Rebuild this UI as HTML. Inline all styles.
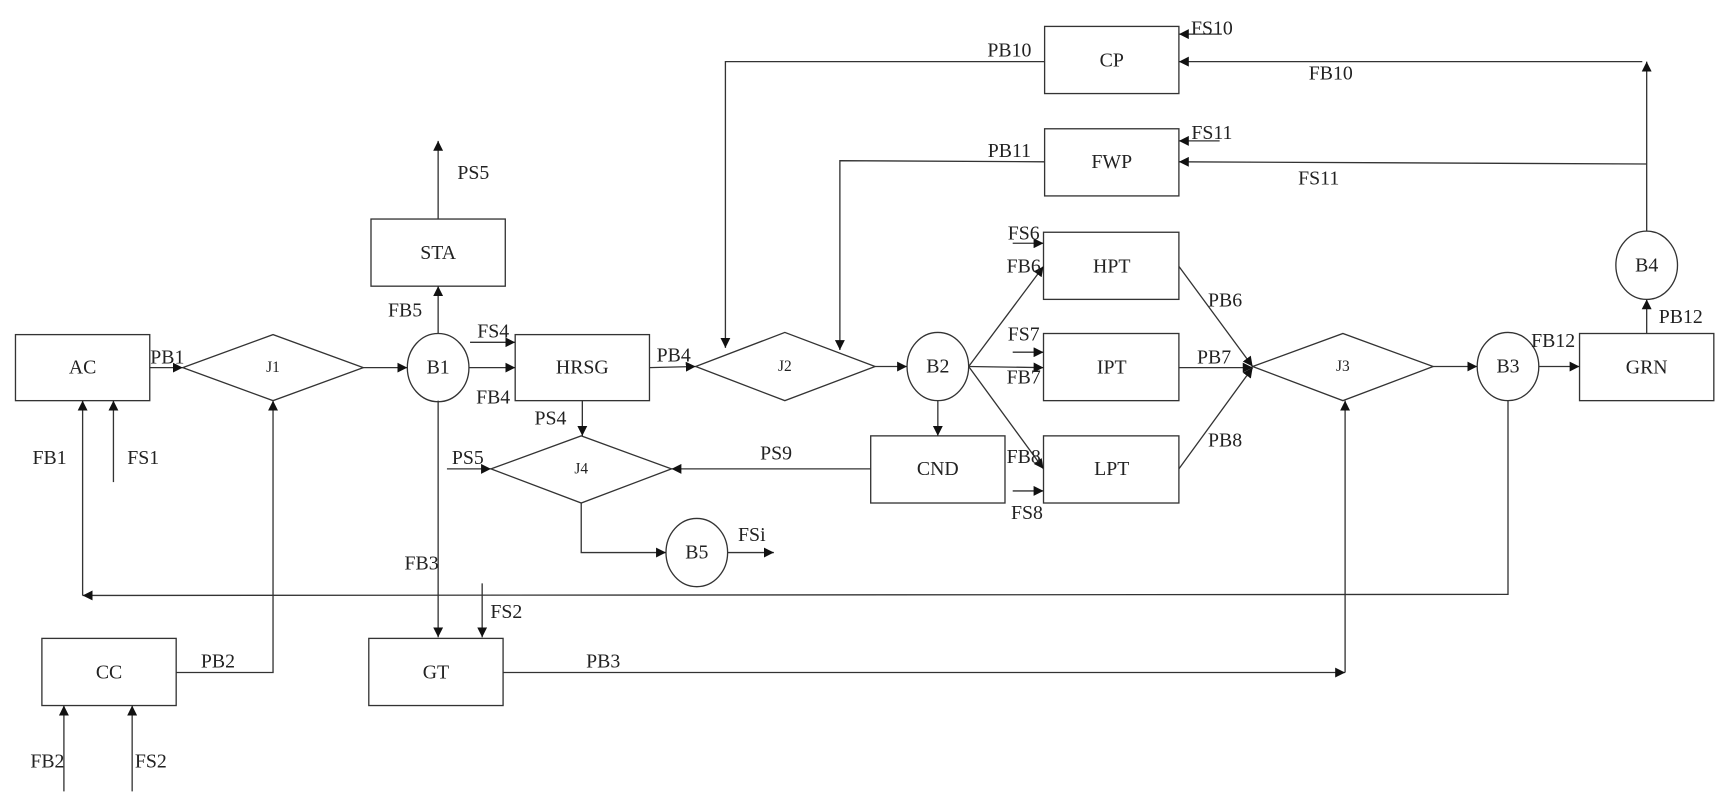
<!DOCTYPE html>
<html><head><meta charset="utf-8"><style>
html,body{margin:0;padding:0;background:#fff;}
svg{display:block;}
text{font-family:"Liberation Serif",serif;font-size:18px;fill:#222;}
.s{font-size:14px;}
</style></head><body>
<svg width="1726" height="809" viewBox="0 0 1568 735" xmlns="http://www.w3.org/2000/svg">
<defs><marker id="a" viewBox="0 0 10 10" refX="10" refY="5" markerWidth="9" markerHeight="9" markerUnits="userSpaceOnUse" orient="auto"><path d="M0,0L10,5L0,10z" fill="#111"/></marker></defs>
<g fill="none" stroke="#333" stroke-width="1.2">
<rect x="14" y="304" width="122" height="60"/>
<rect x="337" y="199" width="122" height="61"/>
<rect x="468" y="304" width="122" height="60"/>
<rect x="791" y="396" width="122" height="61"/>
<rect x="949" y="24" width="122" height="61"/>
<rect x="949" y="117" width="122" height="61"/>
<rect x="948" y="211" width="123" height="61"/>
<rect x="948" y="303" width="123" height="61"/>
<rect x="948" y="396" width="123" height="61"/>
<rect x="1435" y="303" width="122" height="61"/>
<rect x="335" y="580" width="122" height="61"/>
<rect x="38" y="580" width="122" height="61"/>
<polygon points="166,334 248,304 330,334 248,364"/>
<polygon points="632,333 713,302 795,333 713,364"/>
<polygon points="446,426 528,396 610,426 528,457"/>
<polygon points="1138,333 1220,303 1302,333 1220,364"/>
<ellipse cx="398" cy="334" rx="28" ry="31"/>
<ellipse cx="852" cy="333" rx="28" ry="31"/>
<ellipse cx="633" cy="502" rx="28" ry="31"/>
<ellipse cx="1370" cy="333" rx="28" ry="31"/>
<ellipse cx="1496" cy="241" rx="28" ry="31"/>
</g>
<g fill="none" stroke="#333" stroke-width="1.2" marker-end="url(#a)">
<path d="M136,334H166"/>
<path d="M330,334H370"/>
<path d="M398,303V260"/>
<path d="M398,199V128"/>
<path d="M427,311H468"/>
<path d="M426,334H468"/>
<path d="M590,334L632,333"/>
<path d="M795,333H824"/>
<path d="M529,364V396"/>
<path d="M406,426H446"/>
<path d="M528,457V502H605"/>
<path d="M661,502H703"/>
<path d="M791,426H610"/>
<path d="M852,364V396"/>
<path d="M880,333L948,242"/>
<path d="M920,221H948"/>
<path d="M880,333L948,334"/>
<path d="M920,320H948"/>
<path d="M880,333L948,426"/>
<path d="M920,446H948"/>
<path d="M1071,242L1138,333"/>
<path d="M1071,334H1138"/>
<path d="M1071,426L1138,334"/>
<path d="M1302,333H1342"/>
<path d="M1398,333H1435"/>
<path d="M1496,303V272"/>
<path d="M1496,210V56"/>
<path d="M1496,149L1071,147"/>
<path d="M1492,56H1071"/>
<path d="M1110,31H1071"/>
<path d="M1108,128H1071"/>
<path d="M949,56H659V316"/>
<path d="M949,147L763,146V318"/>
<path d="M1370,364V540L75,541"/>
<path d="M75,541V364"/>
<path d="M103,438V364"/>
<path d="M398,364V579"/>
<path d="M438,530V579"/>
<path d="M457,611H1222"/>
<path d="M1222,611V364"/>
<path d="M160,611H248V364"/>
<path d="M58,719V641"/>
<path d="M120,719V641"/>
</g>
<g text-anchor="middle" dominant-baseline="central">
<text x="75" y="334">AC</text>
<text x="398" y="230">STA</text>
<text x="529" y="334">HRSG</text>
<text x="852" y="426">CND</text>
<text x="1010" y="55">CP</text>
<text x="1010" y="147">FWP</text>
<text x="1010" y="242">HPT</text>
<text x="1010" y="334">IPT</text>
<text x="1010" y="426">LPT</text>
<text x="1496" y="334">GRN</text>
<text x="396" y="611">GT</text>
<text x="99" y="611">CC</text>
<text x="398" y="334">B1</text>
<text x="852" y="333">B2</text>
<text x="633" y="502">B5</text>
<text x="1370" y="333">B3</text>
<text x="1496" y="241">B4</text>
<text class="s" x="248" y="334">J1</text>
<text class="s" x="713" y="333">J2</text>
<text class="s" x="528" y="426">J4</text>
<text class="s" x="1220" y="333">J3</text>
<text x="152" y="325">PB1</text>
<text x="368" y="282">FB5</text>
<text x="430" y="157">PS5</text>
<text x="448" y="301">FS4</text>
<text x="448" y="361">FB4</text>
<text x="612" y="323">PB4</text>
<text x="500" y="380">PS4</text>
<text x="425" y="416">PS5</text>
<text x="705" y="412">PS9</text>
<text x="683" y="486">FSi</text>
<text x="930" y="212">FS6</text>
<text x="930" y="242">FB6</text>
<text x="930" y="304">FS7</text>
<text x="930" y="343">FB7</text>
<text x="930" y="415">FB8</text>
<text x="933" y="466">FS8</text>
<text x="1113" y="273">PB6</text>
<text x="1103" y="325">PB7</text>
<text x="1113" y="400">PB8</text>
<text x="1411" y="310">FB12</text>
<text x="1527" y="288">PB12</text>
<text x="1101" y="26">FS10</text>
<text x="1101" y="121">FS11</text>
<text x="1209" y="67">FB10</text>
<text x="1198" y="162">FS11</text>
<text x="917" y="46">PB10</text>
<text x="917" y="137">PB11</text>
<text x="45" y="416">FB1</text>
<text x="130" y="416">FS1</text>
<text x="383" y="512">FB3</text>
<text x="460" y="556">FS2</text>
<text x="548" y="601">PB3</text>
<text x="198" y="601">PB2</text>
<text x="43" y="692">FB2</text>
<text x="137" y="692">FS2</text>
</g>
</svg>
</body></html>
